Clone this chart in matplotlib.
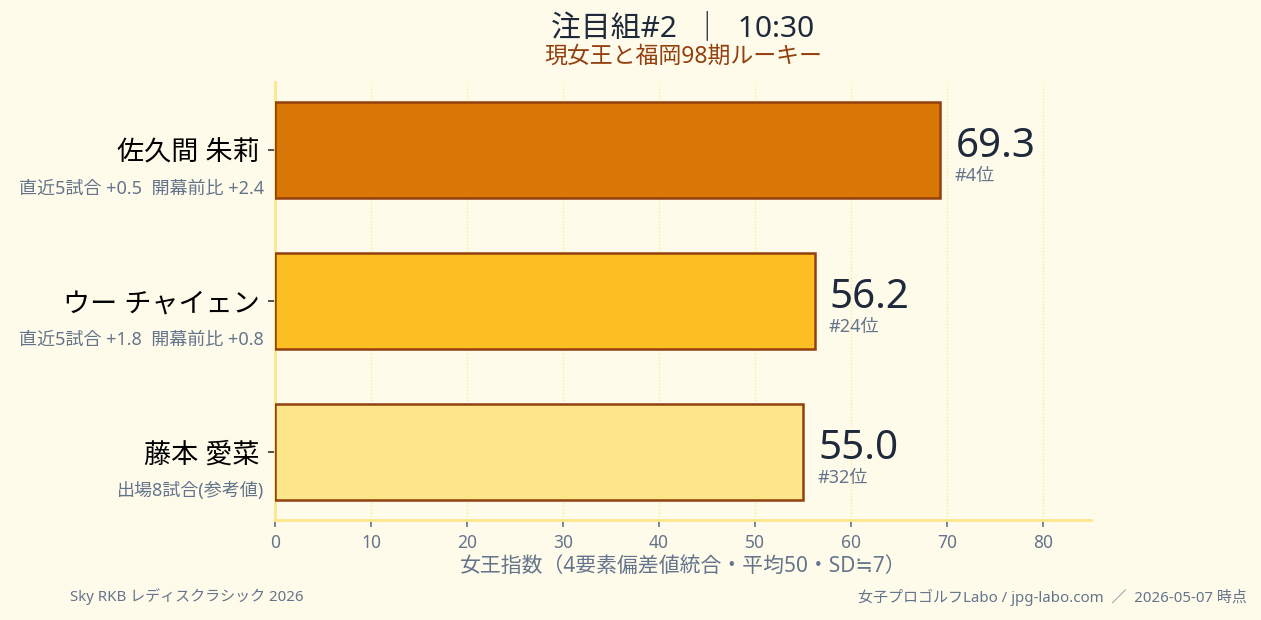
import matplotlib
matplotlib.use("Agg")
import matplotlib.pyplot as plt
import matplotlib.transforms as mtransforms

plt.rcParams['font.family'] = ['Noto Sans', 'Noto Sans CJK JP', 'DejaVu Sans']

# data
names = ['佐久間 朱莉', 'ウー チャイェン', '藤本 愛菜']
scores = [69.3, 56.2, 55.0]
ranks = ['#4位', '#24位', '#32位']
notes = ['直近5試合 +0.5  開幕前比 +2.4', '直近5試合 +1.8  開幕前比 +0.8', '出場8試合(参考値)']
xticks = [0, 10, 20, 30, 40, 50, 60, 70, 80]

bg = '#fffbeb'
bar_colors = ['#d97706', '#fbbf24', '#fde68a']
edge = '#92400e'
gray = '#64748b'
navy = '#1e293b'

fig = plt.figure(figsize=(12.61, 6.20), dpi=100, facecolor=bg)
ax = fig.add_axes([275/1261, 1 - 520/620, 816/1261, 438/620])
ax.set_facecolor(bg)

y = list(range(len(names)))
ax.barh(y, scores, height=0.63, color=bar_colors, edgecolor=edge, linewidth=1.8, zorder=3)

ax.set_xlim(0, 85)
ax.set_ylim(2.45, -0.45)
ax.set_xticks(xticks)
ax.set_yticks(y)
ax.set_yticklabels(names, fontsize=19.5, color='black')
ax.tick_params(axis='y', length=5, width=1.2, color='#333333', pad=6)
ax.tick_params(axis='x', length=5, width=1.2, color=gray, labelcolor=gray, labelsize=12.5, pad=5)

for s in ['top', 'right']:
    ax.spines[s].set_visible(False)
for s in ['left', 'bottom']:
    ax.spines[s].set_color('#fde68a')
    ax.spines[s].set_linewidth(2)

ax.grid(axis='x', linestyle=':', color='#fde68a', linewidth=0.9, zorder=0)
ax.set_axisbelow(True)

ax.set_xlabel('女王指数（4要素偏差値統合・平均50・SD≒7）', fontsize=15, color=gray, labelpad=3)

trans = mtransforms.blended_transform_factory(ax.transAxes, ax.transData)
for i in y:
    ax.text(-11/816, i + 0.26, notes[i], transform=trans, ha='right', va='center',
            fontsize=13, color=gray)
    ax.text(scores[i] + 1.6, i - 0.02, f'{scores[i]:.1f}', ha='left', va='center',
            fontsize=29, color=navy)
    ax.text(scores[i] + 1.5, i + 0.17, ranks[i], ha='left', va='center',
            fontsize=13, color=gray)

fig.text(683/1261, 1 - 28/620, '注目組#2  ｜  10:30', ha='center', va='center',
         fontsize=21.5, color=navy)
fig.text(683/1261, 1 - 57/620, '現女王と福岡98期ルーキー', ha='center', va='center',
         fontsize=16.5, color=edge)

fig.text(70/1261, 1 - 597/620, 'Sky RKB レディスクラシック 2026', ha='left', va='center',
         fontsize=10.8, color=gray)
fig.text(1247/1261, 1 - 597/620, '女子プロゴルフLabo / jpg-labo.com  ／  2026-05-07 時点',
         ha='right', va='center', fontsize=10.8, color=gray)

fig.savefig('out.png', dpi=100, facecolor=bg)
